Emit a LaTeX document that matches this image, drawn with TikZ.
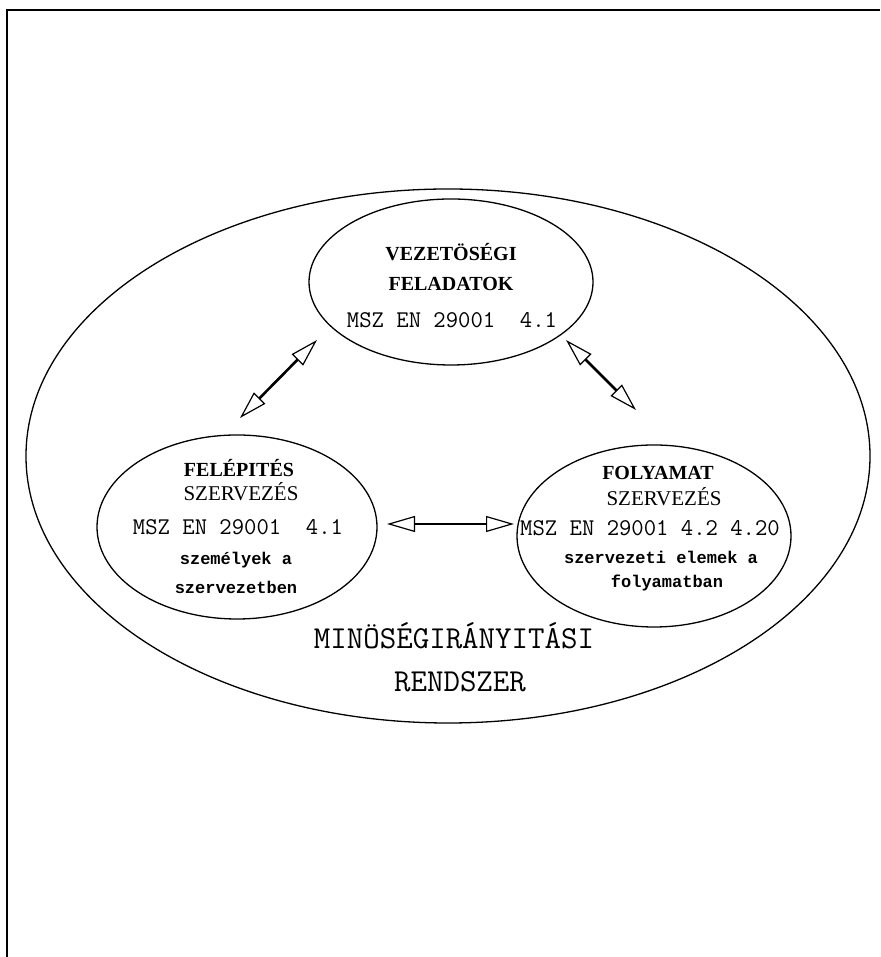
\documentclass[tikz,border=0pt]{standalone}
\usepackage{fontspec}
\setmainfont{Liberation Serif}
\newfontfamily\notefont{Liberation Mono}
\usetikzlibrary{shapes.geometric,arrows.meta}
\begin{document}
\begin{tikzpicture}[x=1pt,y=1pt,
  oval/.style={draw,ellipse,line width=1.3pt,inner sep=0pt},
  head/.style={inner sep=0pt,font=\fontsize{20}{20}\selectfont\bfseries},
  headr/.style={inner sep=0pt,font=\fontsize{21}{21}\selectfont},
  code/.style={inner sep=0pt,font=\fontsize{24}{24}\selectfont\ttfamily},
  note/.style={inner sep=0pt,font=\fontsize{17}{17}\selectfont\notefont\bfseries},
  bigtxt/.style={inner sep=0pt,font=\fontsize{32}{32}\selectfont\ttfamily},
  tip/.style={Triangle[open,length=28pt,width=16pt,line width=1.2pt]},
  dbl/.style={line width=2.6pt,{Triangle[open,length=28pt,width=16pt,line width=1.2pt]}-{Triangle[open,length=28pt,width=16pt,line width=1.2pt]}}
]
\useasboundingbox (0,0) rectangle (880,957);
\fill[white] (0,0) rectangle (880,957);
% frame
\coordinate (fbl) at (7,0);
\coordinate (ftl) at (7,947);
\coordinate (ftr) at (880,947);
\draw[line width=1.5pt] (fbl) -- (ftl) -- (ftr);

% ellipses
\node[oval,minimum width=844pt,minimum height=534pt] (sys) at (448,501) {};
\node[oval,minimum width=284pt,minimum height=166pt] (top) at (451,675) {};
\node[oval,minimum width=280pt,minimum height=184pt] (left) at (237,430) {};
\node[oval,minimum width=274pt,minimum height=182pt] (right) at (654,421) {};

% top texts
\node[head] (t1) at (451,705) {VEZETÖSÉGI};
\node[head] (t2) at (451,673) {FELADATOK};
\node[code] (t3) at (452,637) {MSZ EN 29001~~4.1};

% left texts
\node[head] (l1) at (239,489) {FELÉPITÉS};
\node[headr] (l2) at (241,465) {SZERVEZÉS};
\node[code] (l3) at (238,430) {MSZ EN 29001~~4.1};
\node[note] (l4) at (236,397) {személyek a};
\node[note] (l5) at (236,370) {szervezetben};

% right texts
\node[head] (r1) at (658,484) {FOLYAMAT};
\node[headr] (r2) at (664,460) {SZERVEZÉS};
\node[code] (r3) at (650,429) {MSZ EN 29001 4.2 4.20};
\node[note] (r4) at (661,400) {szervezeti elemek a};
\node[note] (r5) at (667,374) {folyamatban};

% bottom
\node[bigtxt] (b1) at (454,321) {MINÖSÉGIRÁNYITÁSI};
\node[bigtxt] (b2) at (460,275) {RENDSZER};

% arrows
\coordinate (a1) at (240,539);
\coordinate (a2) at (317,617);
\coordinate (b1e) at (566,617);
\coordinate (b2e) at (636,547);
\coordinate (c1) at (387,433);
\coordinate (c2) at (514,433);
\draw[dbl] (a1) -- (a2);
\draw[dbl] (b1e) -- (b2e);
\draw[dbl] (c1) -- (c2);
\end{tikzpicture}
\end{document}
